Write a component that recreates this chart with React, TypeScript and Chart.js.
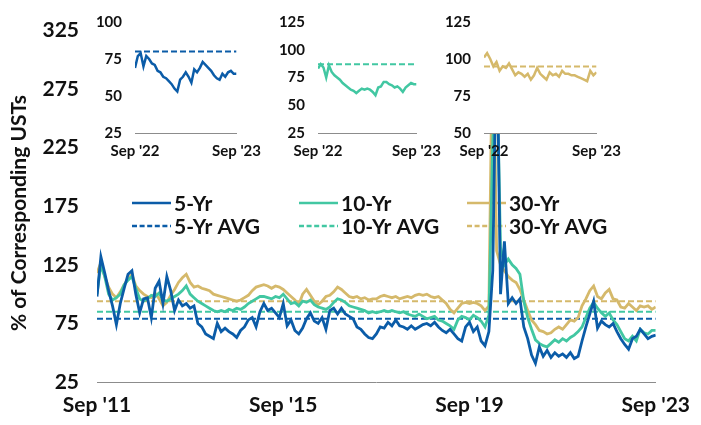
import React, { useEffect, useRef } from "react";
import { Chart, registerables } from "chart.js";

Chart.register(...registerables);

const FONT = "Lato, 'Open Sans', sans-serif";
const TEXT = "#111111";
const BLUE = "#0b5ca8";
const TEAL = "#42c7a2";
const GOLD = "#d5b96b";

// ---- main chart data (monthly, Sep '11 .. Sep '23) ----
const xTickLabels = ["Sep '11", "Sep '15", "Sep '19", "Sep '23"];
const xTickMonths = [0, 48, 96, 144];
const yAxisTitle = "% of Corresponding USTs";

const fiveYr = [
  98, 132, 118, 103, 90, 74, 92, 105, 117, 120, 100, 84,
  96, 97, 80, 105, 111, 92, 115, 103, 86, 95, 90, 92,
  88, 90, 75, 72, 66, 64, 62, 75, 68, 71, 68, 66,
  63, 69, 72, 78, 80, 72, 85, 92, 86, 88, 84, 80,
  92, 73, 78, 69, 66, 71, 79, 84, 77, 75, 80, 70,
  86, 88, 83, 88, 83, 81, 79, 72, 70, 66, 63, 62,
  66, 72, 71, 76, 73, 78, 73, 72, 70, 73, 70, 72,
  74, 75, 73, 76, 72, 69, 67, 70, 66, 62, 60, 72,
  76, 68, 72, 60, 56, 68, 120, 340, 100, 145, 92, 97,
  92, 96, 72, 62, 48, 41, 55, 47, 52, 46, 50, 47,
  49, 46, 50, 45, 47, 60, 72, 83, 94, 71, 77, 74,
  72, 75, 68, 62, 57, 53, 62, 64, 70, 66, 62, 64,
  65,
];

const tenYr = [
  100, 125, 115, 100, 95, 97, 100, 108, 112, 115, 105, 96,
  94, 96, 99, 98, 101, 95, 94, 96, 98, 100, 103, 107,
  100, 97, 94, 92, 90, 88, 86, 85, 86, 85, 87, 86,
  88, 87, 89, 92, 94, 96, 98, 98, 97, 96, 98, 97,
  100, 96, 92, 93, 90, 94, 93, 95, 91, 89, 88, 87,
  89, 93, 96, 95, 93, 90, 89, 88, 87, 86, 84, 85,
  84, 85, 86, 85, 86, 85, 84, 85, 83, 82, 81, 83,
  81, 79, 80, 81, 78, 77, 75, 73, 70, 78, 81, 80,
  78, 82, 80, 77, 72, 82, 230, 300, 140, 125, 130, 125,
  122, 117, 94, 80, 70, 61, 58, 56, 55, 58, 61, 59,
  62, 60, 63, 65, 68, 72, 80, 88, 93, 88, 84, 81,
  84, 78, 74, 68, 62, 60, 64, 60, 70, 67, 66, 69,
  69,
];

const thirtyYr = [
  118, 127, 115, 106, 100, 97, 102, 108, 113, 117, 107, 103,
  100, 98, 97, 101, 96, 90, 93, 99, 104, 110, 114, 117,
  110, 106, 107, 105, 104, 103, 100, 99, 98, 97, 96, 95,
  94, 95, 97, 99, 103, 106, 107, 108, 107, 105, 107, 106,
  104, 101, 98, 95, 91, 100, 104, 99, 94, 91, 94, 98,
  99, 102, 106, 104, 101, 98, 97, 98, 96, 97, 95, 96,
  96, 98, 99, 98, 97, 98, 96, 97, 98, 97, 99, 100,
  99, 100, 98, 97, 98, 95, 92, 87, 84, 88, 92, 93,
  92, 93, 92, 90, 86, 90, 340, 137, 125, 120, 115, 112,
  110, 104, 95, 86, 78, 74, 69, 68, 66, 67, 70, 72,
  70, 74, 78, 77, 80, 90, 96, 103, 107, 98, 96, 101,
  104, 96, 95, 89, 88, 92, 89, 86, 90, 89, 90, 87,
  89,
];

const fiveYrAvg = 79;
const tenYrAvg = 85;
const thirtyYrAvg = 94;

// ---- inset data (~10-day steps, Sep '22 .. Sep '23) ----
const insetTickLabels = ["Sep '22", "Sep '23"];

const inset5Yr = [
  69, 77, 79, 70, 77, 75, 72, 71, 67, 66, 63, 62,
  60, 58, 55, 53, 61, 63, 66, 63, 59, 68, 66, 69,
  73, 71, 69, 67, 64, 62, 61, 65, 63, 66, 67, 65,
  65,
];
const inset10Yr = [
  83, 87, 84, 75, 86, 80, 77, 75, 73, 70, 68, 66,
  64, 63, 61, 63, 65, 64, 65, 64, 62, 59, 66, 67,
  71, 71, 69, 68, 66, 67, 65, 62, 66, 68, 70, 69,
  69,
];
const inset30Yr = [
  101, 104, 100, 95, 98, 92, 95, 94, 97, 93, 89, 91,
  90, 88, 90, 86, 89, 94, 90, 88, 86, 91, 89, 90,
  88, 92, 90, 90, 89, 89, 88, 87, 86, 85, 92, 89,
  91,
];
const inset5YrAvg = 80;
const inset10YrAvg = 87;
const inset30YrAvg = 95;

const mainYTicks = [25, 75, 125, 175, 225, 275, 325];

const toPoints = (arr: number[]) => arr.map((v, i) => ({ x: i, y: v }));
const flat = (v: number, last: number) => [
  { x: 0, y: v },
  { x: last, y: v },
];

const legendItems = [
  { label: "5-Yr", color: BLUE, dash: false, x: 132, y: 203 },
  { label: "5-Yr AVG", color: BLUE, dash: true, x: 132, y: 226 },
  { label: "10-Yr", color: TEAL, dash: false, x: 299, y: 203 },
  { label: "10-Yr AVG", color: TEAL, dash: true, x: 299, y: 226 },
  { label: "30-Yr", color: GOLD, dash: false, x: 467, y: 203 },
  { label: "30-Yr AVG", color: GOLD, dash: true, x: 467, y: 226 },
];

const legendPlugin = {
  id: "customLegend",
  beforeDatasetsDraw(chart: any) {
    const ctx = chart.ctx;
    ctx.save();
    for (const it of legendItems) {
      ctx.strokeStyle = it.color;
      ctx.lineWidth = 2.5;
      ctx.setLineDash(it.dash ? [5, 2.6] : []);
      ctx.beginPath();
      ctx.moveTo(it.x, it.y);
      ctx.lineTo(it.x + 39, it.y);
      ctx.stroke();
      ctx.setLineDash([]);
      ctx.fillStyle = TEXT;
      ctx.font = `bold 21px ${FONT}`;
      ctx.textBaseline = "middle";
      ctx.textAlign = "left";
      ctx.fillText(it.label, it.x + 42, it.y + 1);
    }
    // y-axis title
    ctx.translate(19, 213);
    ctx.rotate(-Math.PI / 2);
    ctx.font = `bold 21px ${FONT}`;
    ctx.textAlign = "center";
    ctx.textBaseline = "middle";
    ctx.fillStyle = TEXT;
    ctx.fillText(yAxisTitle, 0, 0);
    ctx.restore();
  },
};

const whiteBgPlugin = {
  id: "whiteBg",
  beforeDraw(chart: any) {
    const { ctx, chartArea } = chart;
    ctx.save();
    ctx.fillStyle = "#ffffff";
    ctx.fillRect(chartArea.left - 50, 0, chartArea.right - chartArea.left + 54, chartArea.bottom);
    ctx.restore();
  },
};

function lineDs(data: any[], color: string, order: number, dashed = false, width = 2.8) {
  return {
    data,
    borderColor: color,
    backgroundColor: color,
    borderWidth: dashed ? 2 : width,
    borderDash: dashed ? [6, 3] : [],
    pointRadius: 0,
    tension: 0,
    fill: false,
    order,
  };
}

function mainConfig(): any {
  const last = fiveYr.length - 1;
  return {
    type: "line",
    data: {
      datasets: [
        lineDs(toPoints(fiveYr), BLUE, 0),
        lineDs(toPoints(tenYr), TEAL, 1),
        lineDs(toPoints(thirtyYr), GOLD, 2),
        lineDs(flat(fiveYrAvg, last), BLUE, 3, true),
        lineDs(flat(tenYrAvg, last), TEAL, 4, true),
        lineDs(flat(thirtyYrAvg, last), GOLD, 5, true),
      ],
    },
    options: {
      animation: false,
      responsive: false,
      maintainAspectRatio: false,
      layout: { padding: { left: 0, right: 36, top: 27, bottom: 0 } },
      plugins: { legend: { display: false }, tooltip: { enabled: false } },
      scales: {
        x: {
          type: "linear",
          min: 0,
          max: last,
          grid: { display: false, drawTicks: false },
          border: { display: true, color: "#8c8c8c", width: 1 },
          afterBuildTicks: (s: any) => {
            s.ticks = xTickMonths.map((v) => ({ value: v }));
          },
          ticks: {
            autoSkip: false,
            maxRotation: 0,
            padding: 11,
            color: TEXT,
            font: { family: FONT, size: 21, weight: "bold" },
            callback: (v: number) => xTickLabels[xTickMonths.indexOf(v)] ?? "",
          },
          afterFit: (s: any) => {
            s.height = 43;
          },
        },
        y: {
          type: "linear",
          min: 25,
          max: 325,
          grid: { display: false, drawTicks: false },
          border: { display: false },
          afterBuildTicks: (s: any) => {
            s.ticks = mainYTicks.map((v) => ({ value: v }));
          },
          ticks: {
            padding: 18,
            color: TEXT,
            font: { family: FONT, size: 21, weight: "bold" },
          },
          afterFit: (s: any) => {
            s.width = 97;
          },
        },
      },
    },
    plugins: [legendPlugin],
  };
}

function insetConfig(
  series: number[],
  avg: number,
  color: string,
  yMin: number,
  yMax: number,
  yAxisWidth: number,
  rightPad: number,
  topPad: number
): any {
  const last = series.length - 1;
  const yTicks: number[] = [];
  for (let v = yMin; v <= yMax; v += 25) yTicks.push(v);
  return {
    type: "line",
    data: {
      datasets: [lineDs(toPoints(series), color, 0, false, 2.5), lineDs(flat(avg, last), color, 1, true)],
    },
    options: {
      animation: false,
      responsive: false,
      maintainAspectRatio: false,
      layout: { padding: { left: 0, right: rightPad, top: topPad, bottom: 0 } },
      plugins: { legend: { display: false }, tooltip: { enabled: false } },
      scales: {
        x: {
          type: "linear",
          min: 0,
          max: last,
          grid: { display: false, drawTicks: false },
          border: { display: true, color: "#8c8c8c", width: 1 },
          afterBuildTicks: (s: any) => {
            s.ticks = [{ value: 0 }, { value: last }];
          },
          ticks: {
            autoSkip: false,
            maxRotation: 0,
            padding: 9,
            color: TEXT,
            font: { family: FONT, size: 15, weight: "bold" },
            callback: (v: number) => (v === 0 ? insetTickLabels[0] : insetTickLabels[1]),
          },
          afterFit: (s: any) => {
            s.height = 32;
          },
        },
        y: {
          type: "linear",
          min: yMin,
          max: yMax,
          grid: { display: false, drawTicks: false },
          border: { display: false },
          afterBuildTicks: (s: any) => {
            s.ticks = yTicks.map((v) => ({ value: v }));
          },
          ticks: {
            padding: 13,
            color: TEXT,
            font: { family: FONT, size: 15, weight: "bold" },
          },
          afterFit: (s: any) => {
            s.width = yAxisWidth;
          },
        },
      },
    },
    plugins: [whiteBgPlugin],
  };
}

function ChartCanvas(props: { config: () => any; left: number; top: number; width: number; height: number }) {
  const ref = useRef<HTMLCanvasElement | null>(null);
  useEffect(() => {
    if (!ref.current) return;
    const chart = new Chart(ref.current, props.config());
    return () => chart.destroy();
  }, []);
  return (
    <canvas
      ref={ref}
      width={props.width}
      height={props.height}
      style={{
        position: "absolute",
        left: props.left,
        top: props.top,
        width: props.width,
        height: props.height,
      }}
    />
  );
}

export default function App() {
  return (
    <div
      style={{
        position: "absolute",
        left: 0,
        top: 0,
        width: 701,
        height: 425,
        background: "#ffffff",
        overflow: "hidden",
      }}
    >
      <ChartCanvas config={mainConfig} left={0} top={0} width={701} height={425} />
      <ChartCanvas
        config={() => insetConfig(inset5Yr, inset5YrAvg, BLUE, 25, 100, 45, 12, 12)}
        left={90}
        top={0}
        width={180}
        height={165}
      />
      <ChartCanvas
        config={() => insetConfig(inset10Yr, inset10YrAvg, TEAL, 25, 125, 53, 18, 21)}
        left={265}
        top={0}
        width={185}
        height={165}
      />
      <ChartCanvas
        config={() => insetConfig(inset30Yr, inset30YrAvg, GOLD, 50, 125, 54, 23, 21)}
        left={430}
        top={0}
        width={200}
        height={165}
      />
    </div>
  );
}
